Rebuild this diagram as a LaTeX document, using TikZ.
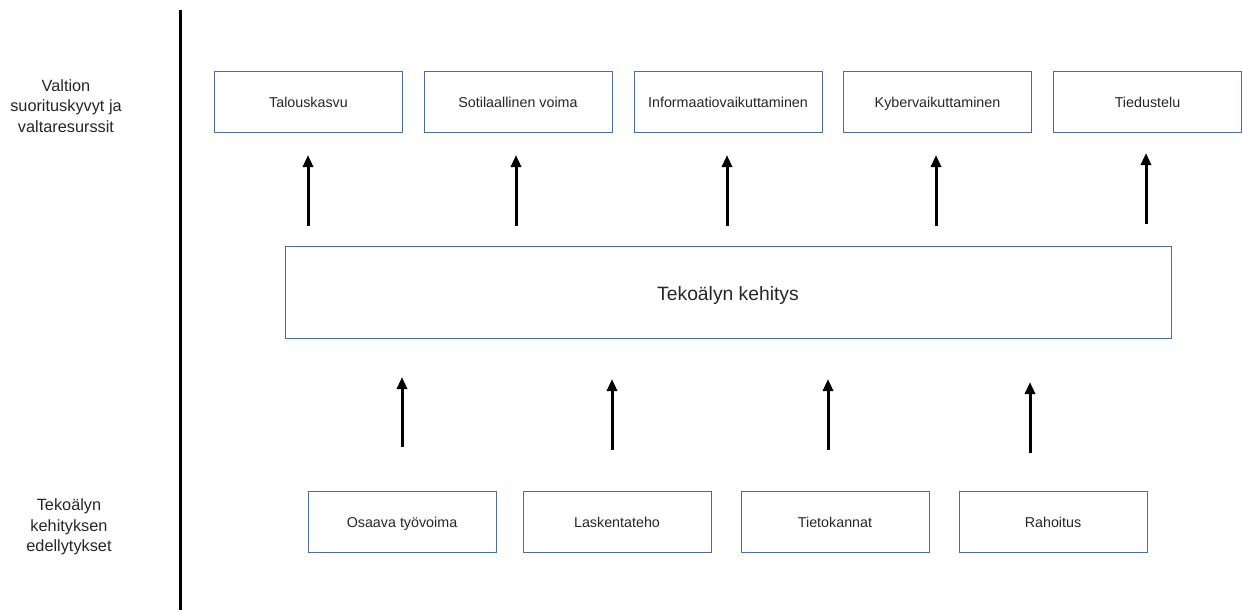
\documentclass[tikz,border=0pt]{standalone}
\usepackage{fontspec}
\setmainfont{Liberation Sans}
\usetikzlibrary{arrows.meta}
\definecolor{boxblue}{RGB}{72,108,172}
\tikzset{
  x=1pt,y=-1pt,
  sbox/.style={draw=boxblue,line width=1pt,minimum width=188pt,minimum height=61pt,inner sep=0pt,text height=12pt,text depth=1.5pt,font=\fontsize{14.3}{17}\selectfont,text=black!85},
  bigbox/.style={draw=boxblue,line width=1pt,minimum width=886pt,minimum height=92pt,inner sep=0pt,text height=17.5pt,text depth=0.5pt,font=\fontsize{19.3}{23}\selectfont,text=black!85},
  sidelabel/.style={align=center,font=\fontsize{16.3}{20.7}\selectfont,text=black!85},
  uparrow/.style={line width=3pt,-{Triangle[width=10pt,length=12pt]}},
}
\begin{document}
\begin{tikzpicture}
\useasboundingbox (0,0) rectangle (1242,610);
\draw[line width=3pt] (180,10) coordinate (vtop) -- (180,610) coordinate (vbot);
\node[sidelabel] (l1) at (66,106) {Valtion\\suorituskyvyt ja\\valtaresurssit};
\node[sidelabel] (l2) at (69,527) {Tekoälyn\\kehityksen\\edellytykset};
% top boxes
\node[sbox] (t1) at (308.5,102) {Talouskasvu};
\node[sbox] (t2) at (518,102) {Sotilaallinen voima};
\node[sbox] (t3) at (728,102) {Informaatiovaikuttaminen};
\node[sbox] (t4) at (937.5,102) {Kybervaikuttaminen};
\node[sbox] (t5) at (1147.5,102) {Tiedustelu};
% big box
\node[bigbox] (k) at (728,292) {Tekoälyn kehitys};
% bottom boxes
\node[sbox] (b1) at (402,522) {Osaava työvoima};
\node[sbox] (b2) at (617,522) {Laskentateho};
\node[sbox] (b3) at (835,522) {Tietokannat};
\node[sbox] (b4) at (1053,522) {Rahoitus};
% top arrows
\coordinate (ta1s) at (308,226); \coordinate (ta1e) at (308,155);
\coordinate (ta2s) at (516,226); \coordinate (ta2e) at (516,155);
\coordinate (ta3s) at (727,226); \coordinate (ta3e) at (727,155);
\coordinate (ta4s) at (936,226); \coordinate (ta4e) at (936,155);
\coordinate (ta5s) at (1146,224); \coordinate (ta5e) at (1146,153);
\foreach \i in {1,...,5} \draw[uparrow] (ta\i s) -- (ta\i e);
% bottom arrows
\coordinate (ba1s) at (402,447); \coordinate (ba1e) at (402,377);
\coordinate (ba2s) at (612,450); \coordinate (ba2e) at (612,379);
\coordinate (ba3s) at (828,450); \coordinate (ba3e) at (828,379);
\coordinate (ba4s) at (1030,453); \coordinate (ba4e) at (1030,382);
\foreach \i in {1,...,4} \draw[uparrow] (ba\i s) -- (ba\i e);
\end{tikzpicture}
\end{document}
